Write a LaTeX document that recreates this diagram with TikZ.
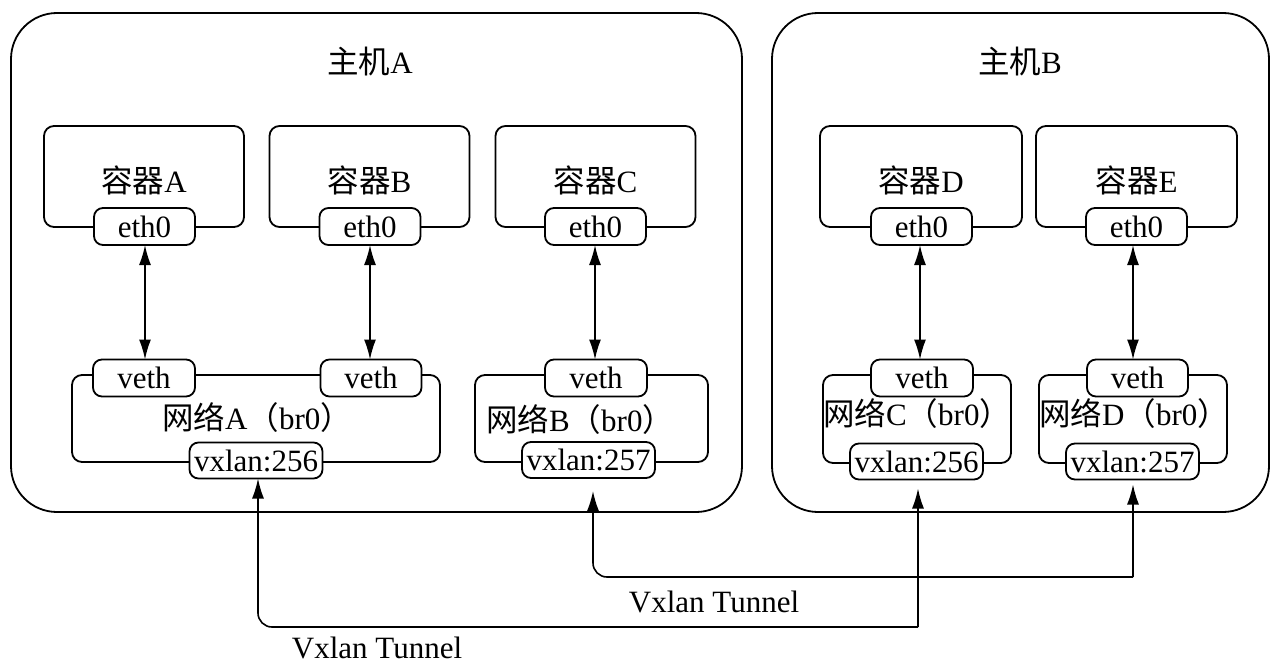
\documentclass[tikz,border=0pt]{standalone}
\usepackage{fontspec}
\setmainfont{Liberation Serif}
\newfontfamily\cjk{Noto Sans CJK SC}
\usetikzlibrary{arrows.meta}
\begin{document}
\begin{tikzpicture}[x=1pt,y=-1pt,
  every node/.style={font=\fontsize{31}{34}\selectfont, inner sep=0pt, outer sep=0pt},
  host/.style={draw, line width=1.8pt, rounded corners=46pt},
  cbox/.style={draw, line width=1.8pt, rounded corners=10pt, fill=white},
  port/.style={draw, line width=1.8pt, rounded corners=9pt, fill=white, minimum height=37pt},
  link/.style={line width=1.6pt, {Latex[length=20pt,width=12pt]}-{Latex[length=20pt,width=12pt]}},
  tun/.style={line width=1.6pt, rounded corners=14pt, -{Latex[length=20pt,width=12pt]}}
]
\useasboundingbox (0,0) rectangle (1280,669);
\newcommand{\zh}[1]{{\cjk\fontsize{31.5}{34}\selectfont #1}}
% hosts
\node[host, minimum width=731pt, minimum height=499pt] (hostA) at (376.5,262.5) {};
\node[host, minimum width=497pt, minimum height=499pt] (hostB) at (1020.5,262.5) {};
\node (tA) at (370,62) {\zh{主机}A};
\node (tB) at (1020,62) {\zh{主机}B};
% containers
\node[cbox, minimum width=200pt, minimum height=101pt] (cA) at (144,176.5) {};
\node[cbox, minimum width=200pt, minimum height=101pt] (cB) at (369.5,176.5) {};
\node[cbox, minimum width=200pt, minimum height=101pt] (cC) at (595.5,176.5) {};
\node[cbox, minimum width=202pt, minimum height=101pt] (cD) at (921,176.5) {};
\node[cbox, minimum width=201pt, minimum height=101pt] (cE) at (1136.5,176.5) {};
\node (lA) at (144,180) {\zh{容器}A};
\node (lB) at (369.5,180) {\zh{容器}B};
\node (lC) at (595.5,180) {\zh{容器}C};
\node (lD) at (921,180) {\zh{容器}D};
\node (lE) at (1136.5,180) {\zh{容器}E};
\node[port, minimum width=101pt] (eA) at (144.5,226.5) {eth0};
\node[port, minimum width=101pt] (eB) at (370,226.5) {eth0};
\node[port, minimum width=101pt] (eC) at (595.5,226.5) {eth0};
\node[port, minimum width=101pt] (eD) at (921.5,226.5) {eth0};
\node[port, minimum width=101pt] (eE) at (1136.5,226.5) {eth0};
% networks
\node[cbox, minimum width=368pt, minimum height=87pt] (nA) at (256,418.5) {};
\node[cbox, minimum width=233pt, minimum height=87pt] (nB) at (591.5,418.5) {};
\node[cbox, minimum width=188pt, minimum height=88pt] (nC) at (917,419) {};
\node[cbox, minimum width=188pt, minimum height=88pt] (nD) at (1133,419) {};
\node (lnA) at (257,418) {\zh{网络}A\zh{（}br0\zh{）}};
\node (lnB) at (580,420) {\zh{网络}B\zh{（}br0\zh{）}};
\node (lnC) at (917,414) {\zh{网络}C\zh{（}br0\zh{）}};
\node (lnD) at (1134,414) {\zh{网络}D\zh{（}br0\zh{）}};
\node[port, minimum width=102pt] (vA1) at (144,378) {veth};
\node[port, minimum width=101pt] (vA2) at (371,378) {veth};
\node[port, minimum width=102pt] (vB) at (596,378) {veth};
\node[port, minimum width=102pt] (vC) at (922,378) {veth};
\node[port, minimum width=101pt] (vD) at (1137.5,378) {veth};
\node[port, minimum width=133pt, minimum height=36pt] (xA) at (256,460.5) {vxlan:256};
\node[port, minimum width=133pt, minimum height=36pt] (xB) at (588.5,460) {vxlan:257};
\node[port, minimum width=133pt, minimum height=36pt] (xC) at (916.5,461.5) {vxlan:256};
\node[port, minimum width=133pt, minimum height=36pt] (xD) at (1132.5,461.5) {vxlan:257};
% links
\draw[link] (eA.south -| 145,0) -- (vA1.north -| 145,0);
\draw[link] (eB.south -| 370,0) -- (vA2.north -| 370,0);
\draw[link] (eC.south -| 595,0) -- (vB.north -| 595,0);
\draw[link] (eD.south -| 920,0) -- (vC.north -| 920,0);
\draw[link] (eE.south -| 1133,0) -- (vD.north -| 1133,0);
% tunnels
\coordinate (t1a) at (258,627);
\coordinate (t1b) at (918,627);
\coordinate (t2a) at (593,577);
\coordinate (t2b) at (1133,577);
\draw[tun] (t1b) -- ([yshift=-9pt]xC.south -| t1b);
\draw[tun] (t1b) -- (t1a) -- (xA.south -| t1a);
\draw[tun] (t2b) -- ([yshift=-5pt]xD.south -| t2b);
\draw[tun] (t2b) -- (t2a) -- ([yshift=-13pt]xB.south -| t2a);
\node (tun1) at (377,648) {Vxlan Tunnel};
\node (tun2) at (714,602) {Vxlan Tunnel};
\end{tikzpicture}
\end{document}
